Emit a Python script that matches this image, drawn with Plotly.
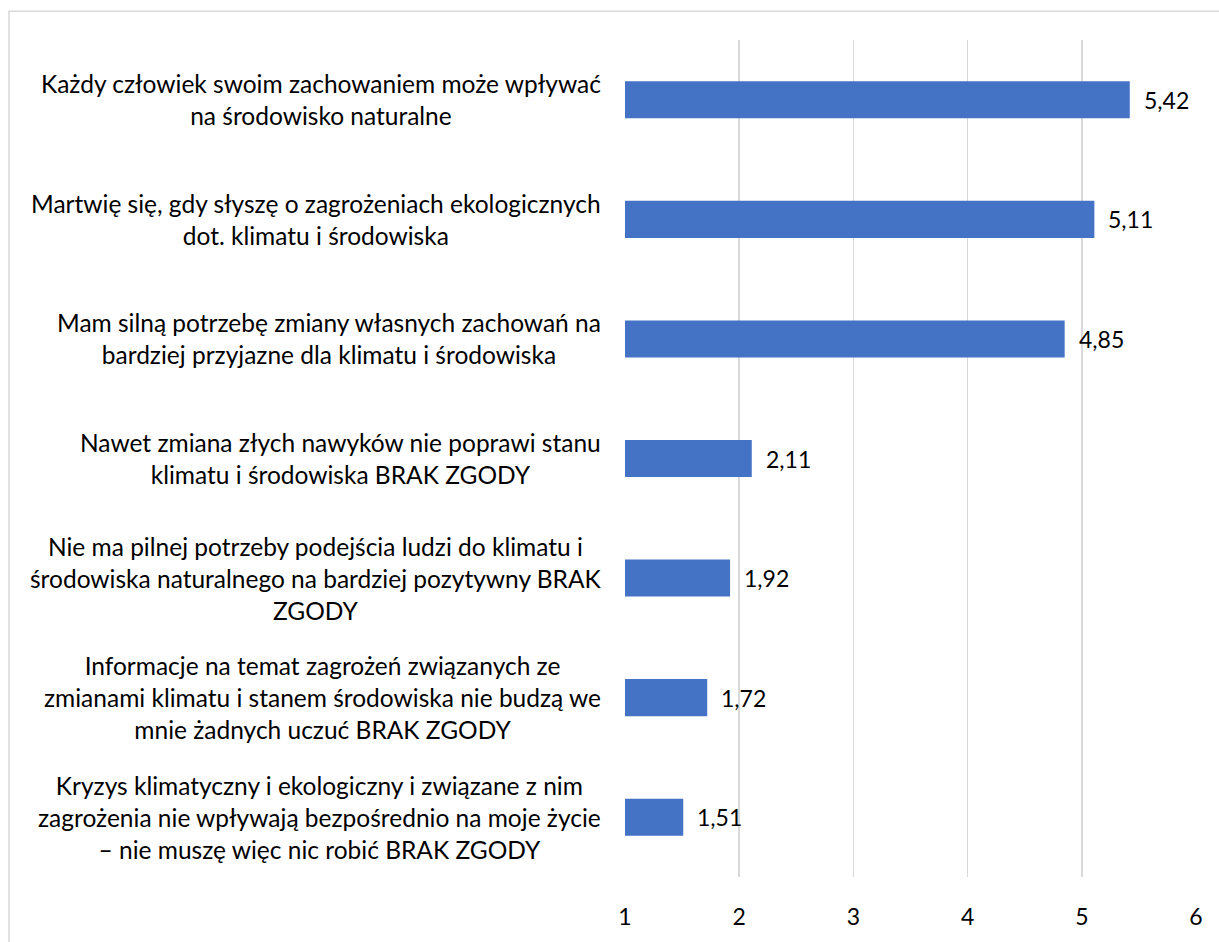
import plotly.graph_objects as go

categories = [
    "Każdy człowiek swoim zachowaniem może wpływać<br>na środowisko naturalne",
    "Martwię się, gdy słyszę o zagrożeniach ekologicznych<br>dot. klimatu i środowiska",
    "Mam silną potrzebę zmiany własnych zachowań na<br>bardziej przyjazne dla klimatu i środowiska",
    "Nawet zmiana złych nawyków nie poprawi stanu<br>klimatu i środowiska BRAK ZGODY",
    "Nie ma pilnej potrzeby podejścia ludzi do klimatu i<br>środowiska naturalnego na bardziej pozytywny BRAK<br>ZGODY",
    "Informacje na temat zagrożeń związanych ze<br>zmianami klimatu i stanem środowiska nie budzą we<br>mnie żadnych uczuć BRAK ZGODY",
    "Kryzys klimatyczny i ekologiczny i związane z nim<br>zagrożenia nie wpływają bezpośrednio na moje życie<br>– nie muszę więc nic robić BRAK ZGODY",
]
values = [5.42, 5.11, 4.85, 2.11, 1.92, 1.72, 1.51]
x_ticks = [1, 2, 3, 4, 5, 6]

FONT = "Lato"
W, H = 1219, 942
ML, MR, MT, MB = 625, 23, 40, 60
pw, ph = W - ML - MR, H - MT - MB

ids = list(range(len(categories)))
base = 1

fig = go.Figure()
fig.add_trace(go.Bar(
    y=ids,
    x=[v - base for v in values],
    base=base,
    orientation="h",
    width=0.31,
    marker=dict(color="#4472C4", line=dict(width=0)),
    hoverinfo="skip",
))

for i, c in zip(ids, categories):
    fig.add_annotation(
        x=0, xref="paper", y=i, yref="y",
        text=c, showarrow=False, xanchor="right", yanchor="middle",
        align="center", xshift=-22,
        font=dict(family=FONT, size=24.5, color="#000000"),
    )

for i, v in zip(ids, values):
    fig.add_annotation(
        x=v, xref="x", y=i, yref="y",
        text=f"{v:.2f}".replace(".", ","), showarrow=False,
        xanchor="left", yanchor="middle", xshift=12,
        font=dict(family=FONT, size=23, color="#000000"),
    )

# chart border (left and top edges visible)
fig.add_shape(
    type="rect", xref="paper", yref="paper",
    x0=(9 - ML) / pw, x1=1.2,
    y0=-0.2, y1=1 + (MT - 11) / ph,
    line=dict(color="#D9D9D9", width=1.5), fillcolor="rgba(0,0,0,0)",
    layer="below",
)

fig.update_layout(
    width=W, height=H,
    margin=dict(l=ML, r=MR, t=MT, b=MB),
    plot_bgcolor="white", paper_bgcolor="white",
    showlegend=False,
    separators=", ",
    font=dict(family=FONT, size=23, color="#000000"),
    xaxis=dict(
        range=[1, 6], tickvals=x_ticks, ticktext=[str(t) for t in x_ticks],
        showgrid=True, gridcolor="#D9D9D9", gridwidth=1.5,
        zeroline=False, showline=False, ticks="", ticklen=0,
        ticklabelstandoff=24,
        tickfont=dict(family=FONT, size=23, color="#000000"),
        fixedrange=True,
    ),
    yaxis=dict(
        range=[len(categories) - 0.5, -0.5],
        showticklabels=False, showgrid=False, zeroline=False, showline=False,
        fixedrange=True,
    ),
)

fig.write_html(
    "out.html",
    config={"displayModeBar": False, "staticPlot": True},
    post_script="document.body.style.margin='0';document.body.style.overflow='hidden';",
)
